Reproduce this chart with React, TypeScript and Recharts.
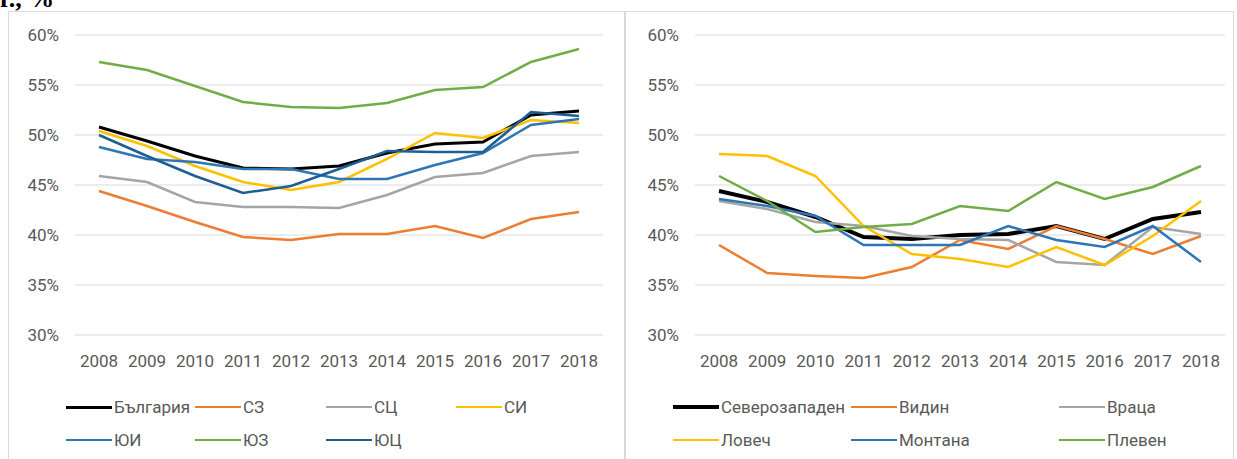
import React from 'react';
import { LineChart, Line, XAxis, YAxis, CartesianGrid } from 'recharts';

const years = ['2008', '2009', '2010', '2011', '2012', '2013', '2014', '2015', '2016', '2017', '2018'];
const yTicks = [30, 35, 40, 45, 50, 55, 60];

// left panel: regions
const bulgaria = [50.8, 49.4, 47.9, 46.7, 46.6, 46.9, 48.2, 49.1, 49.3, 52.0, 52.4];
const sz = [44.4, 42.9, 41.3, 39.8, 39.5, 40.1, 40.1, 40.9, 39.7, 41.6, 42.3];
const sc = [45.9, 45.3, 43.3, 42.8, 42.8, 42.7, 44.0, 45.8, 46.2, 47.9, 48.3];
const si = [50.4, 48.9, 46.9, 45.3, 44.5, 45.3, 47.6, 50.2, 49.7, 51.5, 51.2];
const yui = [48.8, 47.6, 47.3, 46.6, 46.6, 45.6, 45.6, 47.0, 48.2, 51.0, 51.6];
const yuz = [57.3, 56.5, 54.9, 53.3, 52.8, 52.7, 53.2, 54.5, 54.8, 57.3, 58.6];
const yuc = [50.0, 47.9, 45.9, 44.2, 44.9, 46.6, 48.4, 48.3, 48.3, 52.3, 51.9];

// right panel: north-west districts
const severozapaden = [44.4, 43.3, 41.8, 39.8, 39.6, 40.0, 40.1, 40.9, 39.6, 41.6, 42.3];
const vidin = [39.0, 36.2, 35.9, 35.7, 36.8, 39.5, 38.6, 40.9, 39.6, 38.1, 39.9];
const vraca = [43.4, 42.6, 41.3, 40.9, 39.9, 39.6, 39.5, 37.3, 37.0, 40.8, 40.1];
const lovech = [48.1, 47.9, 45.9, 40.9, 38.1, 37.6, 36.8, 38.8, 37.0, 39.9, 43.4];
const montana = [43.6, 42.9, 41.9, 39.0, 39.0, 39.0, 40.9, 39.5, 38.8, 40.9, 37.3];
const pleven = [45.9, 43.4, 40.3, 40.8, 41.1, 42.9, 42.4, 45.3, 43.6, 44.8, 46.9];

const leftSeries = [
  { key: 'bg', name: 'България', values: bulgaria, color: '#000000', width: 3 },
  { key: 'sz', name: 'СЗ', values: sz, color: '#ED7D31', width: 2.5 },
  { key: 'sc', name: 'СЦ', values: sc, color: '#A5A5A5', width: 2.5 },
  { key: 'si', name: 'СИ', values: si, color: '#FFC000', width: 2.5 },
  { key: 'yui', name: 'ЮИ', values: yui, color: '#2E75B6', width: 2.5 },
  { key: 'yuz', name: 'ЮЗ', values: yuz, color: '#70AD47', width: 2.5 },
  { key: 'yuc', name: 'ЮЦ', values: yuc, color: '#1F5E92', width: 2.5 },
];

const rightSeries = [
  { key: 'szp', name: 'Северозападен', values: severozapaden, color: '#000000', width: 4 },
  { key: 'vid', name: 'Видин', values: vidin, color: '#ED7D31', width: 2.5 },
  { key: 'vr', name: 'Враца', values: vraca, color: '#A5A5A5', width: 2.5 },
  { key: 'lov', name: 'Ловеч', values: lovech, color: '#FFC000', width: 2.5 },
  { key: 'mon', name: 'Монтана', values: montana, color: '#2E75B6', width: 2.5 },
  { key: 'pl', name: 'Плевен', values: pleven, color: '#70AD47', width: 2.5 },
];

const FONT = 'Roboto, sans-serif';
const TEXT = '#595959';

type Series = { key: string; name: string; values: number[]; color: string; width: number };

function buildRows(series: Series[]) {
  return years.map((year, i) => {
    const row: Record<string, string | number> = { year };
    series.forEach((s) => {
      row[s.key] = s.values[i];
    });
    return row;
  });
}

function Panel({
  left, width, series, yAxisWidth, marginRight, legendCols,
}: {
  left: number; width: number; series: Series[]; yAxisWidth: number; marginRight: number; legendCols: number[];
}) {
  const data = buildRows(series);
  return (
    <div
      style={{
        position: 'absolute', left, top: 11, width, height: 460,
        border: '1px solid #d9d9d9', boxSizing: 'border-box', background: '#fff',
      }}
    >
      <LineChart
        width={width - 2}
        height={446}
        data={data}
        margin={{ top: 23, right: marginRight, bottom: 93, left: 0 }}
        style={{ fontFamily: FONT }}
      >
        <CartesianGrid vertical={false} stroke="#d9d9d9" />
        <XAxis
          dataKey="year"
          axisLine={false}
          tickLine={false}
          tickMargin={14}
          interval={0}
          padding={{ left: 24, right: 24 }}
          tick={{ fill: TEXT, fontSize: 17, fontFamily: FONT }}
          height={30}
        />
        <YAxis
          domain={[30, 60]}
          ticks={yTicks}
          width={yAxisWidth}
          axisLine={false}
          tickLine={false}
          tickMargin={10}
          tickFormatter={(v) => `${v}%`}
          tick={{ fill: TEXT, fontSize: 17, fontFamily: FONT }}
        />
        {series.map((s) => (
          <Line
            key={s.key}
            dataKey={s.key}
            name={s.name}
            stroke={s.color}
            strokeWidth={s.width}
            dot={false}
            type="linear"
            isAnimationActive={false}
          />
        ))}
      </LineChart>
      {series.map((s, i) => {
        const col = i % legendCols.length;
        const row = Math.floor(i / legendCols.length);
        return (
          <div
            key={s.key}
            style={{
              position: 'absolute', left: legendCols[col] - left, top: 394 + row * 33 - 11,
              height: 24, display: 'flex', alignItems: 'center',
              fontFamily: FONT, fontSize: 17, color: TEXT, whiteSpace: 'nowrap',
            }}
          >
            <span style={{ display: 'inline-block', width: 46, height: s.width, background: s.color, marginRight: 2 }} />
            {s.name}
          </div>
        );
      })}
    </div>
  );
}

export default function App() {
  return (
    <div style={{ position: 'absolute', left: 0, top: 0, width: 1237, height: 459, overflow: 'hidden', background: '#fff' }}>
      <div
        style={{
          position: 'absolute', left: 0, top: -16, fontFamily: '"Liberation Serif", "Times New Roman", serif',
          fontWeight: 'bold', fontSize: 26, lineHeight: '30px', color: '#000', whiteSpace: 'nowrap',
        }}
      >
        г., %
      </div>
      <Panel left={8} width={617} series={leftSeries} yAxisWidth={66} marginRight={21} legendCols={[65, 194, 325, 455]} />
      <Panel left={625} width={609} series={rightSeries} yAxisWidth={69} marginRight={8} legendCols={[672, 850, 1058]} />
    </div>
  );
}
